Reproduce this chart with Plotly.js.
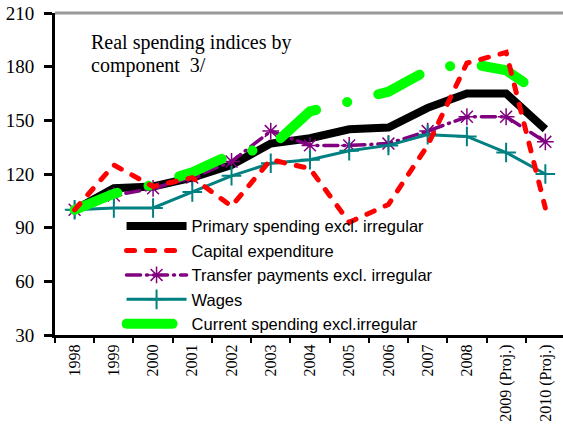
<!DOCTYPE html>
<html>
<head>
<meta charset="utf-8">
<script src="https://cdn.plot.ly/plotly-3.0.1.min.js"></script>
<style>
html,body{margin:0;padding:0;background:#fff;}
#chart{width:563px;height:425px;}
.js-line[style*="dasharray"]{stroke-linecap:round;}
</style>
</head>
<body>
<div id="chart"></div>
<script>
const years = ['1998','1999','2000','2001','2002','2003','2004','2005','2006','2007','2008','2009 (Proj.)','2010 (Proj.)'];
const primary  = [100, 112, 113, 118, 125, 137, 140, 145, 146, 157, 165, 165, 145];
const capital  = [100, 125, 113, 118, 102, 128, 123, 93, 103, 136, 182, 188, 101];
const transfer = [100, 108, 112, 118, 127, 144, 136, 136, 137, 144, 152, 152, 138];
const wages    = [100, 101, 101, 110, 119, 126, 128, 133, 136, 142, 141, 132, 120];
const current  = [100, 109, 114, 121, 131, 135, 155, 161, 166, 178, 182, 178, 163];
const names = ['Primary spending excl. irregular','Capital expenditure','Transfer payments excl. irregular','Wages','Current spending excl.irregular'];
const yTicks = [30, 60, 90, 120, 150, 180, 210];

const traces = [
  {x: years, y: primary, name: names[0], legendrank: 1, mode: 'lines',
   line: {color: '#000000', width: 8}},
  {x: years, y: transfer, name: names[2], legendrank: 3, mode: 'lines+markers',
   line: {color: '#800080', width: 3.5, dash: '14px,6px,1px,6px'},
   marker: {symbol: 'asterisk-open', size: 14, line: {color: '#b050b0', width: 1.5}}},
  {x: years, y: wages, name: names[3], legendrank: 4, mode: 'lines+markers',
   line: {color: '#008080', width: 3},
   marker: {symbol: 'cross-thin-open', size: 14, line: {color: '#2a9a9a', width: 2}}},
  {x: years, y: current, name: names[4], legendrank: 5, mode: 'lines',
   line: {color: '#00ff00', width: 10, dash: '46px,32px,0.1px,32px'}},
  {x: years, y: capital, name: names[1], legendrank: 2, mode: 'lines',
   line: {color: '#ff0000', width: 5, dash: '8px,12px'}}
];

const layout = {
  width: 563, height: 425,
  margin: {l: 55, r: 0, t: 13, b: 90},
  paper_bgcolor: '#ffffff', plot_bgcolor: '#ffffff',
  showlegend: true,
  legend: {x: 0.131, y: 0.392, xanchor: 'left', yanchor: 'top',
           bgcolor: 'rgba(0,0,0,0)', borderwidth: 0, itemwidth: 60, tracegroupgap: 0,
           font: {family: 'Liberation Sans, Arial, sans-serif', size: 16.5, color: '#000'}},
  xaxis: {type: 'category', range: [-0.5, 12.45], tickangle: -90,
          tickson: 'boundaries', ticks: 'outside', ticklen: 5, tickwidth: 2, tickcolor: '#000',
          showline: true, linecolor: '#000', linewidth: 3, showgrid: false, zeroline: false,
          tickfont: {family: 'Liberation Serif, Times New Roman, serif', size: 16, color: '#000'}},
  yaxis: {range: [30, 210], tickvals: yTicks, ticktext: yTicks.map(String),
          ticks: 'outside', ticklen: 8, tickwidth: 3, tickcolor: '#000', ticklabelstandoff: 6,
          showline: true, linecolor: '#000', linewidth: 3, showgrid: false, zeroline: false,
          tickfont: {family: 'Liberation Serif, Times New Roman, serif', size: 19, color: '#000'}},
  shapes: [{type: 'line', xref: 'paper', yref: 'paper', x0: 0, x1: 1, y0: 1, y1: 1,
            line: {color: '#999999', width: 3}}],
  annotations: [
    {xref: 'paper', yref: 'paper', x: 0.066, y: 0.907, xanchor: 'left', yanchor: 'middle',
     showarrow: false, text: 'Real spending indices by',
     font: {family: 'Liberation Serif, Times New Roman, serif', size: 20, color: '#000'}},
    {xref: 'paper', yref: 'paper', x: 0.066, y: 0.838, xanchor: 'left', yanchor: 'middle',
     showarrow: false, text: 'component\u00a0 3/',
     font: {family: 'Liberation Serif, Times New Roman, serif', size: 20, color: '#000'}}
  ]
};

Plotly.newPlot('chart', traces, layout, {displayModeBar: false, staticPlot: true});
</script>
</body>
</html>
